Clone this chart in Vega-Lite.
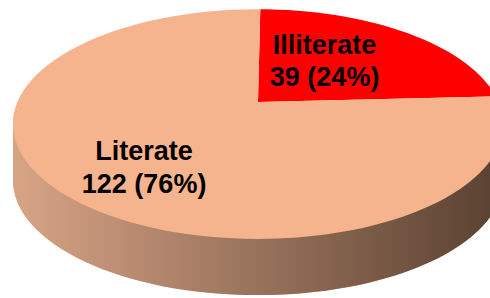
{
  "$schema": "https://vega.github.io/schema/vega-lite/v6.json",
  "width": 464,
  "height": 204,
  "autosize": {"type": "none"},
  "padding": {"left": 26, "top": 0, "right": 0, "bottom": 94},
  "background": "white",
  "config": {"view": {"stroke": null}},
  "data": {
    "values": [
      {"category": "Illiterate", "count": 39, "label": "Illiterate\n39 (24%)"},
      {"category": "Literate", "count": 122, "label": "Literate\n122 (76%)"}
    ]
  },
  "layer": [
    {
      "mark": {"type": "arc", "radius": 270, "strokeWidth": 0},
      "encoding": {
        "theta": {"field": "count", "type": "quantitative", "stack": true, "scale": {"range": [0.025, 6.3082]}},
        "order": {"field": "count", "type": "quantitative", "sort": "ascending"},
        "color": {
          "field": "category",
          "type": "nominal",
          "scale": {"domain": ["Illiterate", "Literate"], "range": ["#ff0000", "#f6b48e"]},
          "legend": null
        }
      }
    },
    {
      "data": {"values": [{}]},
      "mark": {
        "type": "point",
        "shape": "M-3,-3 V3 H3 V-3 Z M-1,0.09 A1,0.469 0 0 1 1,0.09 L1,0.319 A1,0.469 0 0 1 -1,0.319 Z",
        "size": 240100,
        "filled": true,
        "color": "white",
        "opacity": 1,
        "strokeWidth": 0
      },
      "encoding": {}
    },
    {
      "data": {"values": [{}]},
      "mark": {
        "type": "point",
        "shape": "M-1,0.09 L-1,0.319 A1,0.469 0 0 0 1,0.319 L1,0.09 A1,0.469 0 0 1 -1,0.09 Z",
        "size": 240100,
        "filled": true,
        "opacity": 1,
        "strokeWidth": 0,
        "color": {
          "gradient": "linear",
          "x1": 0, "y1": 0, "x2": 1, "y2": 0,
          "stops": [
            {"offset": 0, "color": "#d8a486"},
            {"offset": 0.5, "color": "#98725b"},
            {"offset": 1, "color": "#584030"}
          ]
        }
      },
      "encoding": {}
    },
    {
      "mark": {
        "type": "text", "radius": 80, "dx": 10, "dy": 1,
        "font": "Liberation Sans", "fontWeight": "bold", "fontSize": 27,
        "lineHeight": 32, "lineBreak": "\n", "align": "center", "baseline": "middle", "color": "black"
      },
      "encoding": {
        "theta": {"field": "count", "type": "quantitative", "stack": true},
        "order": {"field": "count", "type": "quantitative", "sort": "ascending"},
        "detail": {"field": "category", "type": "nominal"},
        "text": {"condition": {"test": "datum.category === 'Illiterate'", "field": "label", "type": "nominal"}, "value": ""}
      }
    },
    {
      "mark": {
        "type": "text", "radius": 120, "dx": -29, "dy": -35,
        "font": "Liberation Sans", "fontWeight": "bold", "fontSize": 27,
        "lineHeight": 33, "lineBreak": "\n", "align": "center", "baseline": "middle", "color": "black"
      },
      "encoding": {
        "theta": {"field": "count", "type": "quantitative", "stack": true},
        "order": {"field": "count", "type": "quantitative", "sort": "ascending"},
        "detail": {"field": "category", "type": "nominal"},
        "text": {"condition": {"test": "datum.category === 'Literate'", "field": "label", "type": "nominal"}, "value": ""}
      }
    }
  ]
}
